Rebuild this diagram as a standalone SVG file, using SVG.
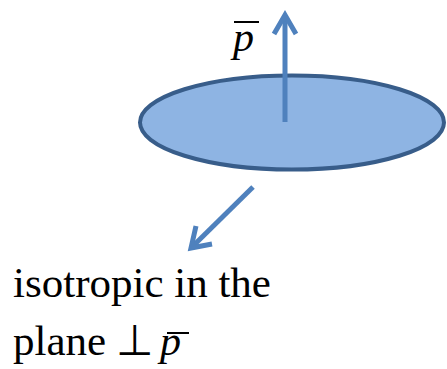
<svg xmlns="http://www.w3.org/2000/svg" width="447" height="369" viewBox="0 0 447 369">
<style>
.t{font-family:"Liberation Serif","Times New Roman",serif;font-size:43px;fill:#000}
.i{font-style:italic;font-size:42px}
.arr{stroke:#4f81bd;stroke-width:5;fill:none}
.bar{stroke:#000;stroke-width:2}
</style>
<g id="disk">
<ellipse cx="292" cy="122.5" rx="152" ry="47" fill="#8eb4e3" stroke="#385d8a" stroke-width="4"/>
</g>
<g id="connectors">
<line class="arr" x1="285" y1="122" x2="285" y2="16"/>
<polyline class="arr" points="274,34 285,15 296,34"/>
<line class="arr" x1="253" y1="187" x2="193" y2="246"/>
<polyline class="arr" points="196,226 191,248 212,244"/>
</g>
<g id="label-p">
<text class="t i" x="233" y="51">p</text>
<line class="bar" x1="234" y1="22" x2="259" y2="22"/>
</g>
<g id="label-iso">
<text class="t" x="13" y="297">isotropic in the</text>
<text class="t" x="13" y="355">plane</text>
<text class="t" x="116" y="355">⊥</text>
<text class="t i" x="160" y="355">p</text>
<line class="bar" x1="167" y1="333" x2="189" y2="333"/>
</g>
</svg>
